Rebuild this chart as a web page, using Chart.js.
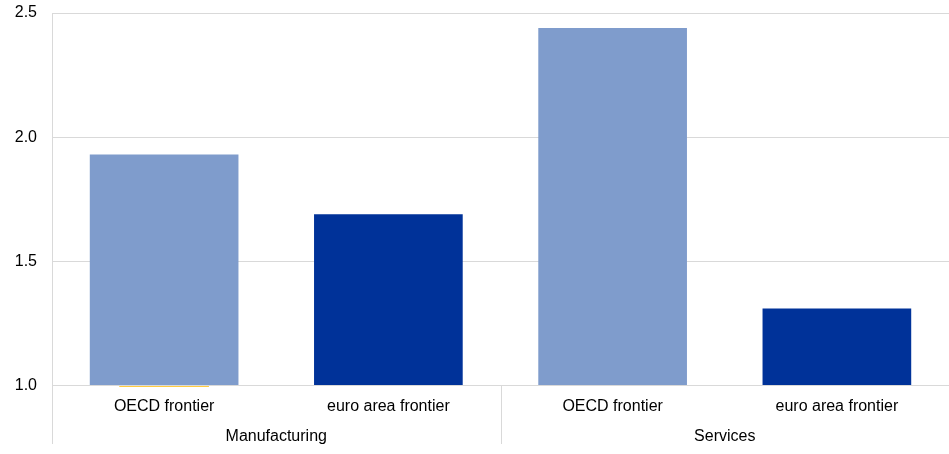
<!DOCTYPE html>
<html>
<head>
<meta charset="utf-8">
<script src="https://cdn.jsdelivr.net/npm/chart.js@4"></script>
<style>
  html, body { margin: 0; padding: 0; background: #fff; }
  #wrap { width: 949px; height: 454px; }
</style>
</head>
<body>
<div id="wrap"><canvas id="chart"></canvas></div>
<script>
// Data
const categories = ['OECD frontier', 'euro area frontier', 'OECD frontier', 'euro area frontier'];
const groups = ['Manufacturing', 'Services'];
const values = [1.93, 1.69, 2.44, 1.31];
const barColors = ['#7f9ccc', '#003299', '#7f9ccc', '#003299'];
const marker = [0.995, null, null, null];
const yTicks = [1.0, 1.5, 2.0, 2.5];

const FONT = { family: 'Liberation Sans, Arial, sans-serif', size: 16 };

// separator lines under the category axis (left edge and between the two groups)
const groupLines = {
    id: 'groupLines',
    afterDraw(chart) {
        const ctx = chart.ctx;
        const x = chart.scales.x;
        const area = chart.chartArea;
        const mid = (x.getPixelForValue(1) + x.getPixelForValue(2)) / 2;
        ctx.save();
        ctx.strokeStyle = '#d9d9d9';
        ctx.lineWidth = 1;
        ctx.beginPath();
        ctx.moveTo(Math.round(area.left) + 0.5, area.bottom);
        ctx.lineTo(Math.round(area.left) + 0.5, 444);
        ctx.moveTo(Math.round(mid) + 0.5, area.bottom);
        ctx.lineTo(Math.round(mid) + 0.5, 444);
        ctx.stroke();
        ctx.restore();
    }
};

new Chart(document.getElementById('chart'), {
    type: 'bar',
    data: {
        labels: categories,
        datasets: [{
            data: values,
            backgroundColor: barColors,
            barPercentage: 0.663,
            categoryPercentage: 1.0,
            base: 1.0
        }, {
            data: marker,
            backgroundColor: '#ffbb00',
            barPercentage: 0.40,
            categoryPercentage: 1.0,
            base: 1.0,
            grouped: false,
            clip: false
        }]
    },
    options: {
        responsive: true,
        maintainAspectRatio: false,
        animation: false,
        layout: { padding: { top: 13, right: 0, left: 0, bottom: 8 } },
        plugins: {
            legend: { display: false },
            tooltip: { enabled: false }
        },
        scales: {
            x: {
                grid: { display: false },
                border: { color: '#d9d9d9' },
                ticks: { color: '#000', font: FONT, padding: 3, maxRotation: 0 }
            },
            x2: {
                type: 'category',
                labels: groups,
                position: 'bottom',
                grid: { display: false },
                border: { display: false },
                ticks: { color: '#000', font: FONT, padding: 0, maxRotation: 0 }
            },
            y: {
                min: 1.0,
                max: 2.5,
                afterBuildTicks(axis) {
                    axis.ticks = yTicks.map(v => ({ value: v }));
                },
                afterFit(axis) {
                    axis.width = 52;
                    axis.paddingTop = 0;
                    axis.paddingBottom = 0;
                },
                grid: { color: '#d9d9d9', drawTicks: false },
                border: { color: '#d9d9d9' },
                ticks: {
                    color: '#000',
                    font: FONT,
                    padding: 15,
                    callback: v => v.toFixed(1)
                }
            }
        }
    },
    plugins: [groupLines]
});
</script>
</body>
</html>
